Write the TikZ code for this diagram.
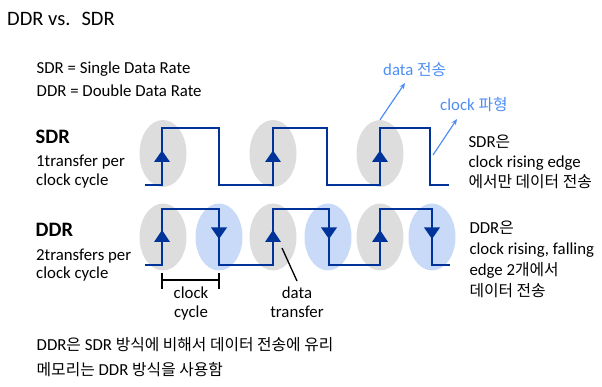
\documentclass[tikz,border=0pt]{standalone}
\usepackage{fontspec}
\setmainfont{Carlito}
\newfontfamily\krfont[Scale=0.94]{Noto Sans CJK KR}
\newcommand{\kor}[1]{{\krfont #1}}
\usetikzlibrary{arrows.meta,positioning,shapes.geometric}
\definecolor{wave}{RGB}{0,51,153}
\definecolor{edgegray}{RGB}{221,221,221}
\definecolor{edgeblue}{RGB}{201,218,248}
\definecolor{note}{RGB}{77,141,245}

\begin{document}
\begin{tikzpicture}[x=1pt, y=-1pt,
    rise/.style={ellipse, fill=edgegray, minimum width=47pt, minimum height=67pt, inner sep=0pt},
    fall/.style={ellipse, fill=edgeblue, minimum width=47pt, minimum height=67pt, inner sep=0pt},
    signal/.style={draw=wave, line width=2.9pt},
    txt/.style={inner sep=0pt, anchor=base west, font=\fontsize{16.8}{20}\selectfont},
    head/.style={inner sep=0pt, anchor=base west, font=\fontsize{20.5}{22}\selectfont\bfseries},
    desc/.style={inner sep=0pt, anchor=north west, align=left},
    under/.style={inner sep=0pt, align=center, anchor=north, font=\fontsize{16.8}{19}\selectfont},
    notetxt/.style={inner sep=0pt, anchor=base west, text=note, font=\fontsize{16.8}{20}\selectfont},
    notearrow/.style={draw=note, line width=1.2pt, -{Stealth[length=6pt,width=5pt]}},
    >=Stealth
  ]
  \useasboundingbox (0,0) rectangle (602,387);

  % Title and definitions
  \node[inner sep=0pt, anchor=base west, font=\fontsize{20.5}{22}\selectfont] (title) at (7,26) {DDR vs.\hskip 11pt SDR};
  \node[txt] (sdrdef) at (36.5,73.7) {SDR = Single Data Rate};
  \node[txt] (ddrdef) at (36.5,97) {DDR = Double Data Rate};

  % Row labels
  \node[head] (sdrhead) at (35.5,143.5) {SDR};
  \node[txt] (sdrsub1) at (36,167) {1transfer per};
  \node[txt] (sdrsub2) at (36,185.5) {clock cycle};
  \node[head] (ddrhead) at (35.5,237) {DDR};
  \node[txt] (ddrsub1) at (36,260.5) {2transfers per};
  \node[txt] (ddrsub2) at (36,278.7) {clock cycle};

  % Edge markers
  \node[rise] (s1) at (163,153.5) {};
  \node[rise] (s2) at (273,153.5) {};
  \node[rise] (s3) at (380,153.5) {};
  \node[rise] (d1) at (163,237) {};
  \node[rise] (d2) at (273,237) {};
  \node[rise] (d3) at (380,237) {};
  \node[fall] (d4) at (219,237) {};
  \node[fall] (d5) at (328,237) {};
  \node[fall] (d6) at (432,237) {};

  % Clock signals
  \draw[signal] (145,185) -| (162,128) -| (219,185) -| (273,128) -| (327,185) -| (380,128) -| (430,185) -- (449,185);
  \draw[signal] (145,265) -| (162,209) -| (219,265) -| (273,209) -| (329,265) -| (380,209) -| (432,265) -- (450,265);
  \foreach \x in {162,273,380} {
    \fill[wave] (\x-8,162) -- (\x+8,162) -- (\x,150.5) -- cycle;
    \fill[wave] (\x-8,242) -- (\x+8,242) -- (\x,230) -- cycle;
  }
  \foreach \x in {219,329,432} {
    \fill[wave] (\x-8,227.5) -- (\x+8,227.5) -- (\x,239) -- cycle;
  }

  % Clock cycle bracket
  \coordinate (cycl) at (162,280);
  \coordinate (cycr) at (219,280);
  \draw[line width=1.3pt] (cycl) -- (cycr);
  \draw[line width=1.3pt] ([yshift=7pt]cycl) -- ([yshift=-9pt]cycl);
  \draw[line width=1.3pt] ([yshift=7pt]cycr) -- ([yshift=-9pt]cycr);
  \node[under] (cyctxt) at (191,287) {clock\\cycle};

  % Data transfer pointer
  \node[under] (xfertxt) at (297,287) {data\\transfer};
  \coordinate (xferpt) at (282,248);
  \draw[line width=1.3pt] (xferpt) -- ([yshift=6pt]xfertxt.north);

  % Blue notes
  \node[notetxt] (datanote) at (383,75.5) {data \kor{전송}};
  \node[notetxt] (clknote) at (440,110.5) {clock \kor{파형}};
  \coordinate (clkpt) at (433,155);
  \draw[notearrow] (s3.north) -- (405,83);
  \draw[notearrow] (clkpt) -- (457,119);

  % Descriptions
  \node[desc, font=\fontsize{16.8}{20.3}\selectfont] (sdrdesc) at (468.3,134.5)
    {SDR\kor{은}\\clock rising edge\\\kor{에서만 데이터 전송}};
  \node[desc, font=\fontsize{16.8}{21}\selectfont] (ddrdesc) at (469.3,221)
    {DDR\kor{은}\\clock rising, falling\\edge 2\kor{개에서}\\\kor{데이터 전송}};

  % Summary
  \node[txt] (sum1) at (36.5,350.5) {DDR\kor{은} SDR \kor{방식에 비해서 데이터 전송에 유리}};
  \node[txt] (sum2) at (36.5,375.5) {\kor{메모리는} DDR \kor{방식을 사용함}};
\end{tikzpicture}
\end{document}
